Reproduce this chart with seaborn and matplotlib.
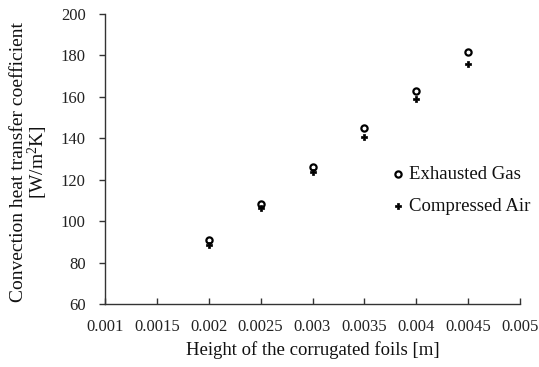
import matplotlib
matplotlib.use("Agg")
import matplotlib.pyplot as plt
import seaborn as sns
import pandas as pd

heights = [0.002, 0.0025, 0.003, 0.0035, 0.004, 0.0045]
exhausted_gas = [90.9, 108.3, 126.3, 144.8, 163.0, 181.5]
compressed_air = [88.5, 106.2, 123.9, 140.5, 158.8, 175.9]
x_ticks = [0.001, 0.0015, 0.002, 0.0025, 0.003, 0.0035, 0.004, 0.0045, 0.005]
x_tick_labels = ["0.001", "0.0015", "0.002", "0.0025", "0.003", "0.0035", "0.004", "0.0045", "0.005"]
y_ticks = [60, 80, 100, 120, 140, 160, 180, 200]

sns.set_theme(style="white")
plt.rcParams["font.family"] = ["Liberation Serif", "DejaVu Serif"]
plt.rcParams["mathtext.fontset"] = "custom"
plt.rcParams["mathtext.rm"] = "Liberation Serif"

gas_df = pd.DataFrame({"h": heights, "coef": exhausted_gas})
air_df = pd.DataFrame({"h": heights, "coef": compressed_air})

fig = plt.figure(figsize=(5.39, 3.67), dpi=100)
ax = fig.add_axes([105 / 539, 1 - 304 / 367, 415 / 539, 290 / 367])

sns.scatterplot(data=gas_df, x="h", y="coef", ax=ax, marker="o", s=20,
                facecolor="white", edgecolor="black", linewidth=1.6,
                label="Exhausted Gas", zorder=3)
sns.scatterplot(data=air_df, x="h", y="coef", ax=ax, marker="P", s=24,
                color="black", edgecolor="black", linewidth=0.5,
                label="Compressed Air", zorder=3)

ax.set_xlim(0.001, 0.005)
ax.set_ylim(60, 200)
ax.set_xticks(x_ticks)
ax.set_xticklabels(x_tick_labels)
ax.set_yticks(y_ticks)

for side in ("top", "right"):
    ax.spines[side].set_visible(False)
for side in ("left", "bottom"):
    ax.spines[side].set_color("#333333")
    ax.spines[side].set_linewidth(1.0)

ax.tick_params(axis="x", direction="in", length=4, width=1, color="#333333",
               labelsize=12, pad=11, bottom=True)
ax.tick_params(axis="y", direction="out", length=4, width=1, color="#333333",
               labelsize=12, pad=10, left=True)
for lbl in ax.get_xticklabels() + ax.get_yticklabels():
    lbl.set_color("#222222")

ax.set_xlabel("Height of the corrugated foils [m]", fontsize=13.5, labelpad=4, color="#111111")
ax.set_ylabel("Convection heat transfer coefficient\n[W/m$\\mathrm{^2}$K]", fontsize=14,
              color="#111111", linespacing=0.95)
ax.yaxis.set_label_coords(-0.1325, 0.49)

leg = ax.legend(loc="center left", bbox_to_anchor=(0.683, 0.393), frameon=False,
                fontsize=13.5, handletextpad=0.1, handlelength=1.0,
                labelspacing=0.8, borderpad=0, borderaxespad=0)
for t in leg.get_texts():
    t.set_color("#111111")

fig.savefig("out.png", dpi=100)
